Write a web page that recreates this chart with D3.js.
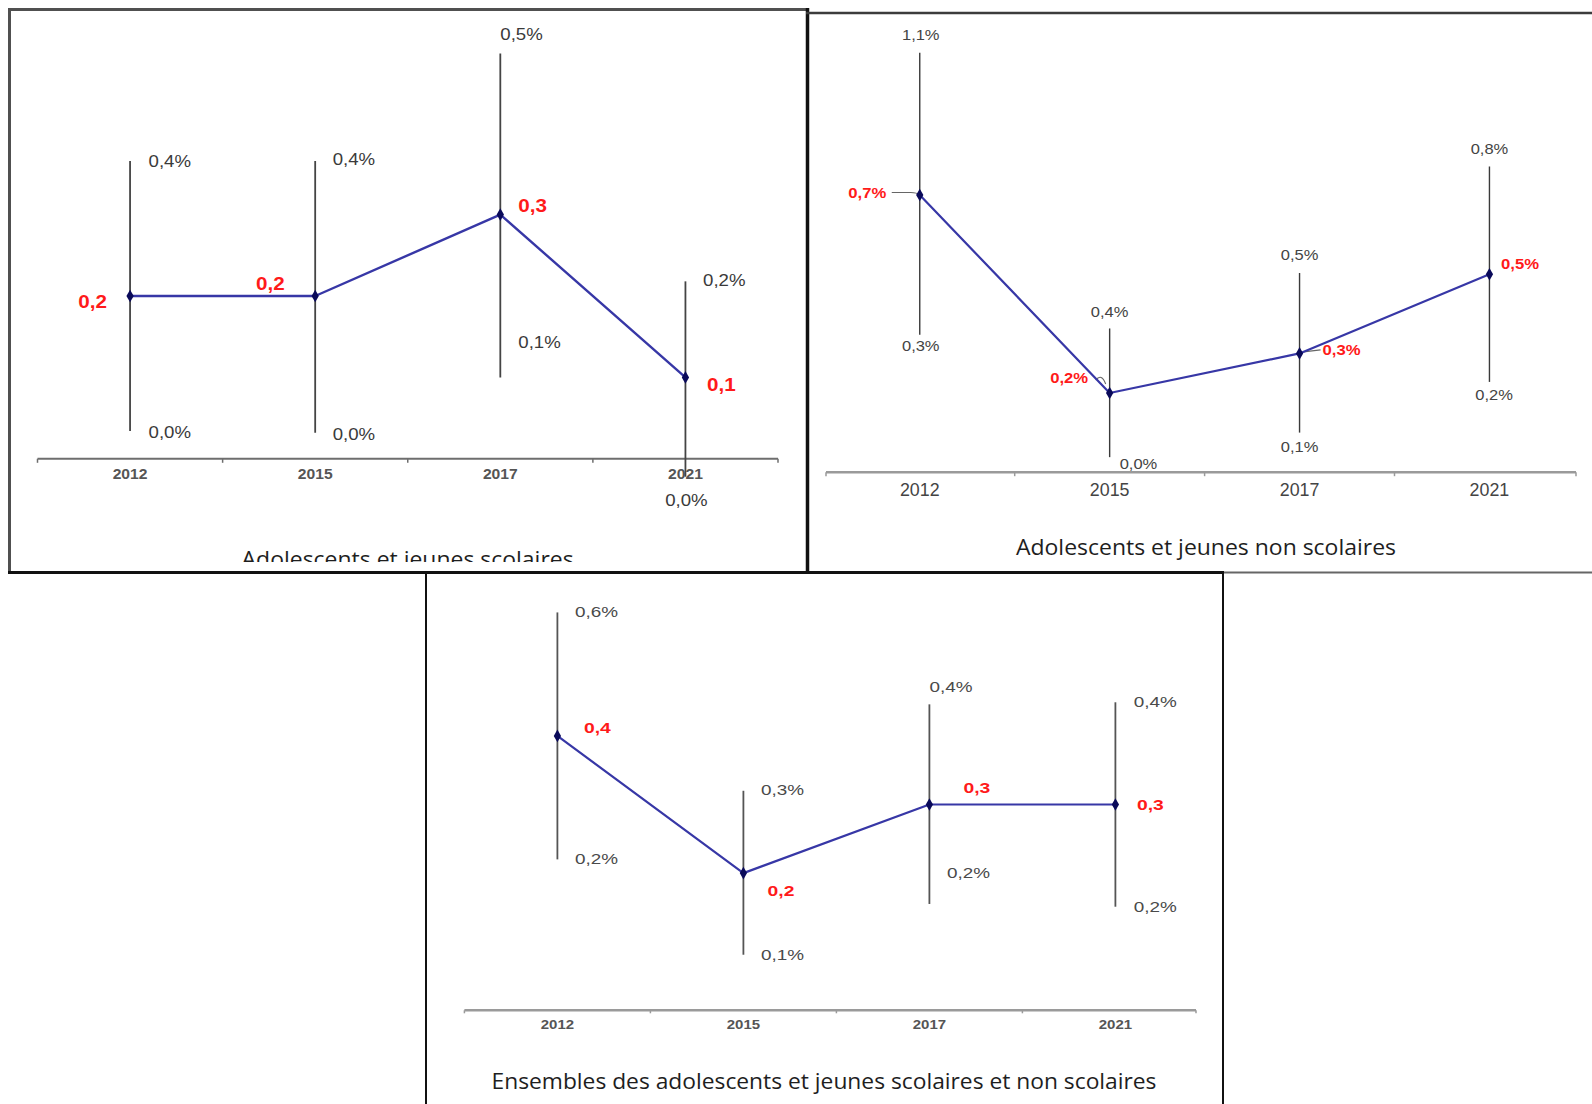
<!DOCTYPE html>
<html>
<head>
<meta charset="utf-8">
<script src="https://cdn.jsdelivr.net/npm/d3@7"></script>
<style>
  html, body { margin: 0; padding: 0; background: #fff; }
  svg { display: block; }
</style>
</head>
<body>
<svg id="chart" width="1592" height="1104"></svg>
<script>
// ---- Data -------------------------------------------------------------
const years = ["2012", "2015", "2017", "2021"];

// Adolescents et jeunes scolaires (prévalence, %, avec intervalle de confiance)
const scolairesRate = [0.2, 0.2, 0.3, 0.1];
const scolairesLow  = [0.034, 0.032, 0.10, -0.022];
const scolairesHigh = [0.366, 0.366, 0.498, 0.218];

// Adolescents et jeunes non scolaires
const nonScolairesRate = [0.7, 0.2, 0.3, 0.5];
const nonScolairesLow  = [0.347, 0.038, 0.10, 0.228];
const nonScolairesHigh = [1.059, 0.363, 0.503, 0.772];

// Ensemble des adolescents et jeunes scolaires et non scolaires
const ensembleRate = [0.4, 0.2, 0.3, 0.3];
const ensembleLow  = [0.22, 0.081, 0.155, 0.151];
const ensembleHigh = [0.58, 0.32, 0.446, 0.449];

const titles = [
  "Adolescents et jeunes scolaires",
  "Adolescents et jeunes non scolaires",
  "Ensembles des adolescents et jeunes scolaires et non scolaires"
];

// ---- Helpers ----------------------------------------------------------
// one decimal, French comma, never "-0,0"
const fmt1 = v => (Math.round(v * 10) / 10 + 0).toFixed(1).replace(".", ",");

const svg = d3.select("#chart");
const FONT = "'Liberation Sans', Arial, sans-serif";

function label(g, x, y, str, o) {
  g.append("text")
    .attr("transform", `translate(${x},${y}) scale(${o.sx},1)`)
    .attr("text-anchor", o.anchor || "start")
    .attr("dominant-baseline", "central")
    .attr("font-family", FONT)
    .attr("font-size", o.size)
    .attr("font-weight", o.weight || "normal")
    .attr("fill", o.fill)
    .text(str);
}

// ---- Panel drawing ----------------------------------------------------
function drawPanel(p) {
  const g = svg.append("g");
  if (p.clip) {
    const id = "clip-" + p.key;
    svg.append("clipPath").attr("id", id)
      .append("rect").attr("x", p.clip[0]).attr("y", p.clip[1])
      .attr("width", p.clip[2]).attr("height", p.clip[3]);
    g.attr("clip-path", `url(#${id})`);
  }

  const xb = d3.scaleBand().domain(years).range(p.xRange).paddingInner(0).paddingOuter(0);
  const x = d => xb(d) + xb.bandwidth() / 2;
  const y = d3.scaleLinear().domain(p.yDomain).range(p.yRange);
  const y0 = y(0);

  // category axis
  g.append("line")
    .attr("x1", p.axisX[0]).attr("x2", p.axisX[1])
    .attr("y1", y0).attr("y2", y0)
    .attr("stroke", p.axisStroke).attr("stroke-width", p.axisWidth);
  const tickXs = [p.axisX[0]].concat(years.slice(1).map(d => xb(d)), [p.axisX[1]]);
  g.selectAll(null).data(tickXs).join("line")
    .attr("x1", d => d).attr("x2", d => d)
    .attr("y1", y0).attr("y2", y0 + p.tickLen)
    .attr("stroke", p.axisStroke).attr("stroke-width", 1.5);
  years.forEach(yr => label(g, x(yr), y0 + p.tick.dy, yr, {
    anchor: "middle", size: p.tick.size, sx: p.tick.sx, weight: p.tick.weight, fill: p.tick.fill
  }));

  // confidence intervals
  years.forEach((yr, i) => {
    g.append("line")
      .attr("x1", x(yr)).attr("x2", x(yr))
      .attr("y1", y(p.high[i])).attr("y2", y(p.low[i]))
      .attr("stroke", p.errStroke).attr("stroke-width", p.errWidth);
  });

  // leader lines
  (p.leaders || []).forEach(l => {
    const px = x(years[l.i]), py = y(p.rate[l.i]);
    g.append("path").attr("d", l.path(px, py))
      .attr("fill", "none").attr("stroke", "#666").attr("stroke-width", 1.1);
  });

  // trend line
  const pts = years.map((yr, i) => [x(yr), y(p.rate[i])]);
  g.append("path").attr("d", d3.line()(pts))
    .attr("fill", "none").attr("stroke", "#3737a6")
    .attr("stroke-width", p.lineWidth).attr("stroke-linejoin", "round");
  g.selectAll(null).data(pts).join("path")
    .attr("transform", d => `translate(${d[0]},${d[1]})`)
    .attr("d", d3.symbol(d3.symbolDiamond, 46))
    .attr("fill", "#0a0a5a");

  // bound labels
  years.forEach((yr, i) => {
    const hp = p.hiPos[i], lp = p.loPos[i];
    label(g, x(yr) + hp[1], y(p.high[i]) + hp[2], fmt1(p.high[i]) + "%",
      { anchor: hp[0], size: p.grey.size, sx: p.grey.sx, fill: p.grey.fill });
    label(g, x(yr) + lp[1], y(p.low[i]) + lp[2], fmt1(p.low[i]) + "%",
      { anchor: lp[0], size: p.grey.size, sx: p.grey.sx, fill: p.grey.fill });
  });

  // value labels
  years.forEach((yr, i) => {
    const vp = p.valPos[i];
    label(g, x(yr) + vp[1], y(p.rate[i]) + vp[2], fmt1(p.rate[i]) + p.valSuffix,
      { anchor: vp[0], size: p.red.size, sx: p.red.sx, weight: "bold", fill: "#ff1a1a" });
  });

  // caption
  g.append("text")
    .attr("x", p.title.x).attr("y", p.title.y)
    .attr("text-anchor", "middle")
    .attr("font-family", "'Open Sans', 'Noto Sans', sans-serif")
    .attr("font-size", 22)
    .attr("fill", "#1e1e1e")
    .attr("textLength", p.title.w).attr("lengthAdjust", "spacingAndGlyphs")
    .text(p.title.text);
}

// ---- Panels -----------------------------------------------------------
drawPanel({
  key: "scol",
  rate: scolairesRate, low: scolairesLow, high: scolairesHigh,
  xRange: [37.5, 778], axisX: [37.5, 778], tickLen: 4,
  yDomain: [0, 0.5], yRange: [458.8, 51.8],
  axisStroke: "#6e6e6e", axisWidth: 2,
  errStroke: "#444", errWidth: 1.8, lineWidth: 2.4,
  tick: { dy: 14.5, size: 14.5, sx: 1.08, weight: "bold", fill: "#555" },
  grey: { size: 16.5, sx: 1.13, fill: "#3a3a3a" },
  red: { size: 17.5, sx: 1.18 },
  valSuffix: "",
  hiPos: [["start", 18.5, 1], ["start", 17.5, -1], ["start", 0, -19], ["start", 17.6, -1]],
  loPos: [["start", 18.5, 1], ["start", 17.5, 2], ["start", 18, -35], ["middle", 1, 24]],
  valPos: [["end", -23, 6.5], ["end", -30.5, -12], ["start", 18, -8.5], ["start", 21.5, 7.5]],
  clip: [11, 11, 795, 551],
  title: { text: titles[0], x: 407.6, y: 566.5, w: 332 }
});

drawPanel({
  key: "nonscol",
  rate: nonScolairesRate, low: nonScolairesLow, high: nonScolairesHigh,
  xRange: [824.8, 1584.4], axisX: [826, 1576], tickLen: 4,
  yDomain: [0, 1], yRange: [472.2, 76.2],
  axisStroke: "#9a9a9a", axisWidth: 2.6,
  errStroke: "#3a3a3a", errWidth: 1.4, lineWidth: 2.2,
  tick: { dy: 18, size: 17.5, sx: 1.02, weight: "normal", fill: "#444" },
  grey: { size: 15, sx: 1.1, fill: "#444" },
  red: { size: 14.5, sx: 1.15 },
  valSuffix: "%",
  hiPos: [["middle", 1, -18], ["middle", 0, -16.5], ["middle", 0, -18], ["middle", 0, -18]],
  loPos: [["middle", 1, 11], ["start", 10, 6.5], ["middle", 0, 13.7], ["middle", 4.6, 13]],
  valPos: [["end", -33.5, -2], ["end", -21.5, -15], ["start", 23, -4], ["start", 11.6, -10.4]],
  leaders: [
    { i: 0, path: (px, py) => `M${px - 28},${py - 2.5} L${px - 9},${py - 2.5} Q${px - 3},${py - 2.5} ${px},${py}` },
    { i: 1, path: (px, py) => `M${px - 14},${py - 13} Q${px - 8},${py - 20} ${px - 4},${py - 9}` },
    { i: 2, path: (px, py) => `M${px + 4},${py - 1.5} L${px + 21},${py - 3.5}` }
  ],
  title: { text: titles[1], x: 1206, y: 555, w: 380 }
});

drawPanel({
  key: "ens",
  rate: ensembleRate, low: ensembleLow, high: ensembleHigh,
  xRange: [464.4, 1208.4], axisX: [464.4, 1196], tickLen: 3,
  yDomain: [0, 0.5], yRange: [1010.3, 667.3],
  axisStroke: "#9a9a9a", axisWidth: 2.6,
  errStroke: "#555", errWidth: 1.8, lineWidth: 2.2,
  tick: { dy: 14.5, size: 12.5, sx: 1.2, weight: "bold", fill: "#555" },
  grey: { size: 14, sx: 1.35, fill: "#4a4a4a" },
  red: { size: 14, sx: 1.38 },
  valSuffix: "",
  hiPos: [["start", 17.6, 0], ["start", 17.6, 0], ["start", 0, -17], ["start", 18.4, 0]],
  loPos: [["start", 17.6, 0], ["start", 17.6, 1], ["start", 17.5, -31], ["start", 18.4, 1]],
  valPos: [["start", 26.6, -7.5], ["start", 24.2, 18.8], ["start", 34, -16.5], ["start", 21.6, 1.2]],
  title: { text: titles[2], x: 824, y: 1089, w: 665 }
});

// ---- Frames -----------------------------------------------------------
const frame = (x1, y1, x2, y2, c, w) => svg.append("line")
  .attr("x1", x1).attr("y1", y1).attr("x2", x2).attr("y2", y2)
  .attr("stroke", c).attr("stroke-width", w);

frame(9.5, 8, 9.5, 574, "#505050", 3);       // left panel, left edge
frame(8, 9.5, 809, 9.5, "#505050", 3);       // left panel, top edge
frame(807.5, 8, 807.5, 574, "#111", 3.5);    // shared edge
frame(806, 13, 1592, 13, "#3c3c3c", 2.5);    // right panel, top edge
frame(8, 572.5, 1224, 572.5, "#111", 3);     // bottom edge of top row
frame(1224, 572.5, 1592, 572.5, "#666", 2);
frame(426, 572, 426, 1104, "#111", 2);       // bottom panel, left edge
frame(1223, 572, 1223, 1104, "#111", 2);     // bottom panel, right edge
</script>
</body>
</html>
